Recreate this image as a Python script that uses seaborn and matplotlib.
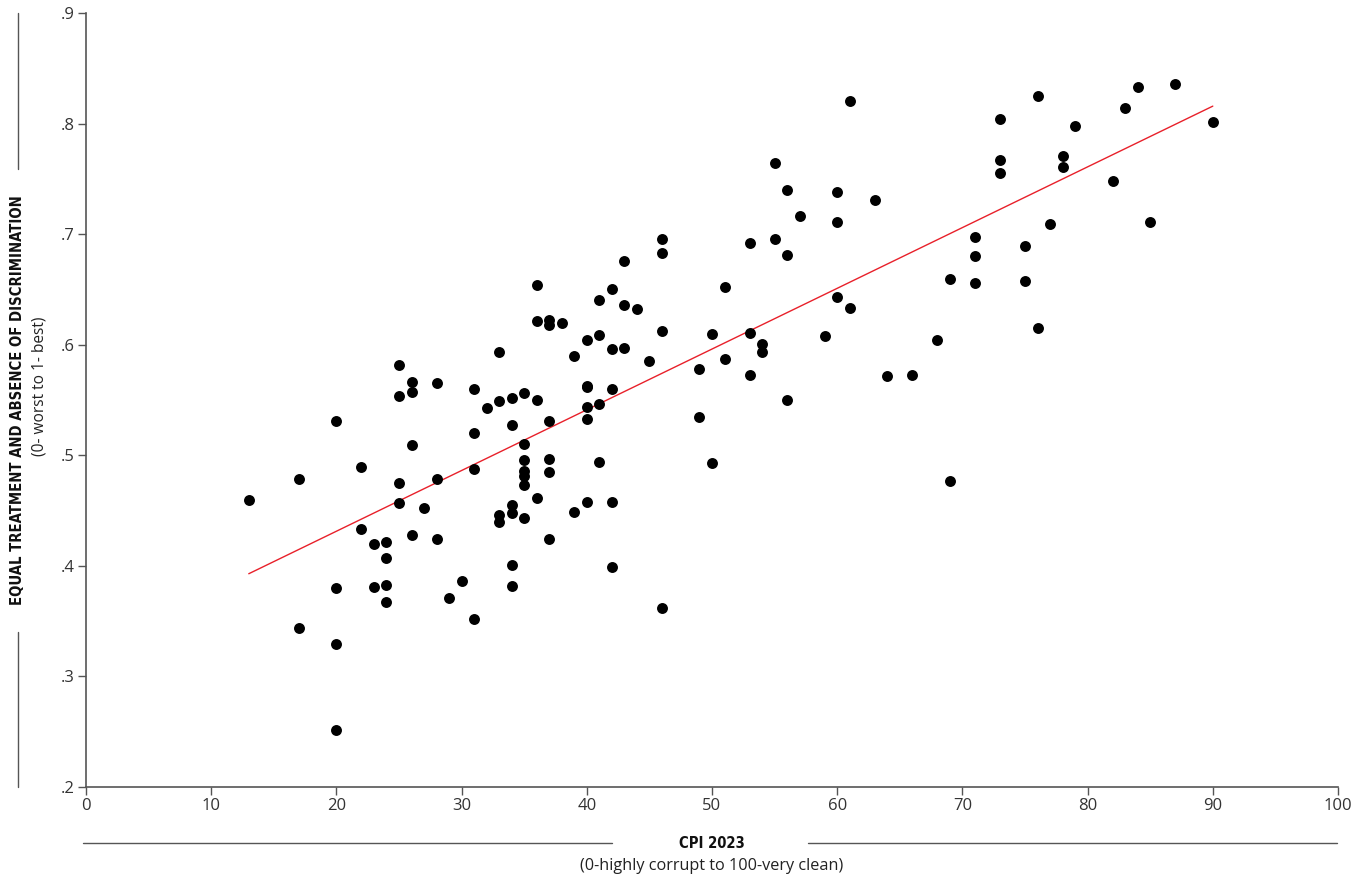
"""
Nuage de points : CPI 2023 vs Equal treatment and absence of discrimination.
"""

import matplotlib.pyplot as plt
import numpy as np
import pandas as pd
import seaborn as sns

# -- Donnees -----------------------------------------------------------------
cpi = [
    13, 17, 17, 20, 20, 20, 20, 22, 22, 23, 23, 24, 24, 24, 24,
    25, 25, 25, 25, 26, 26, 26, 26, 27, 28, 28, 28, 29, 30,
    31, 31, 31, 31, 32, 33, 33, 33, 33, 34, 34, 34, 34, 34, 34,
    35, 35, 35, 35, 35, 35, 35, 36, 36, 36, 36,
    37, 37, 37, 37, 37, 37, 38, 39, 39,
    40, 40, 40, 40, 40, 40, 41, 41, 41, 41,
    42, 42, 42, 42, 42, 43, 43, 43, 44, 45,
    46, 46, 46, 46, 49, 49, 50, 50, 51, 51,
    53, 53, 53, 54, 54, 55, 55, 56, 56, 56, 57,
    59, 60, 60, 60, 61, 61, 63, 64, 66, 68, 69, 69,
    71, 71, 71, 73, 73, 73, 75, 75, 76, 76, 77, 78, 78, 79,
    82, 83, 84, 85, 87, 90,
]
equal_treatment = [
    .460, .479, .344, .531, .380, .329, .252, .489, .433, .420, .381, .422, .407, .383, .367,
    .582, .554, .475, .457, .566, .557, .509, .428, .452, .565, .479, .424, .371, .386,
    .560, .520, .488, .352, .543, .593, .549, .446, .440, .552, .527, .455, .448, .401, .382,
    .556, .510, .496, .486, .481, .473, .443, .654, .621, .550, .461,
    .622, .618, .531, .497, .485, .424, .620, .590, .449,
    .604, .563, .562, .544, .533, .458, .640, .609, .546, .494,
    .650, .596, .560, .458, .399, .676, .636, .597, .632, .585,
    .696, .683, .612, .362, .578, .535, .610, .493, .652, .587,
    .692, .611, .573, .601, .593, .764, .696, .740, .681, .550, .716,
    .608, .738, .711, .643, .820, .633, .731, .572, .573, .604, .659, .477,
    .697, .680, .656, .804, .767, .755, .689, .658, .825, .615, .709, .771, .761, .798,
    .748, .814, .833, .711, .836, .801,
]

x_ticks = list(range(0, 101, 10))
y_ticks = [0.2, 0.3, 0.4, 0.5, 0.6, 0.7, 0.8, 0.9]
y_tick_labels = [".2", ".3", ".4", ".5", ".6", ".7", ".8", ".9"]

df = pd.DataFrame({"cpi": cpi, "equal": equal_treatment})

# -- Figure ----------------------------------------------------------------
sns.set_style("white")
plt.rcParams["font.family"] = ["Open Sans", "DejaVu Sans"]

W, H = 1361, 881
fig = plt.figure(figsize=(W / 100, H / 100), dpi=100)
ax = fig.add_axes([86 / W, 1 - 787 / H, (1338 - 86) / W, (787 - 13) / H])

sns.regplot(
    data=df,
    x="cpi",
    y="equal",
    ax=ax,
    ci=None,
    truncate=True,
    scatter_kws={"s": 62, "color": "black", "linewidths": 0, "alpha": 1, "zorder": 3},
    line_kws={"color": "#e8202a", "linewidth": 1.0, "zorder": 2},
)

ax.set_xlim(0, 100)
ax.set_ylim(0.2, 0.9)
ax.set_xticks(x_ticks)
ax.set_xticklabels([str(t) for t in x_ticks])
ax.set_yticks(y_ticks)
ax.set_yticklabels(y_tick_labels)
ax.set_xlabel("")
ax.set_ylabel("")

for side in ["top", "right"]:
    ax.spines[side].set_visible(False)
for side in ["left", "bottom"]:
    ax.spines[side].set_color("#555555")
    ax.spines[side].set_linewidth(1.2)

ax.tick_params(
    axis="both", direction="out", length=6, width=1.0,
    color="#555555", labelcolor="#333333", labelsize=12, pad=2,
    left=True, bottom=True,
)

# -- Titres d'axes et traits decoratifs -------------------------------------
cond = dict(family="DejaVu Sans", fontstretch="condensed", fontweight="bold")
fig.text(712 / W, 1 - 843 / H, "CPI 2023", ha="center", va="center",
         fontsize=10.6, color="#111111", **cond)
fig.text(712 / W, 1 - 866 / H, "(0-highly corrupt to 100-very clean)",
         ha="center", va="center", fontsize=11.7, color="#222222")

fig.text(18 / W, 1 - 400 / H, "EQUAL TREATMENT AND ABSENCE OF DISCRIMINATION",
         ha="center", va="center", rotation=90, fontsize=10.6,
         color="#111111", **cond)
fig.text(40 / W, 1 - 386 / H, "(0- worst to 1- best)", ha="center", va="center",
         rotation=90, fontsize=11.2, color="#222222")

line_kw = dict(color="#555555", linewidth=1.0, transform=fig.transFigure)
fig.add_artist(plt.Line2D([83 / W, 612 / W], [1 - 843 / H] * 2, **line_kw))
fig.add_artist(plt.Line2D([808 / W, 1337 / W], [1 - 843 / H] * 2, **line_kw))
fig.add_artist(plt.Line2D([18 / W] * 2, [1 - 13 / H, 1 - 169 / H], **line_kw))
fig.add_artist(plt.Line2D([18 / W] * 2, [1 - 632 / H, 1 - 787 / H], **line_kw))

fig.savefig("out.png", dpi=100)
plt.close(fig)
